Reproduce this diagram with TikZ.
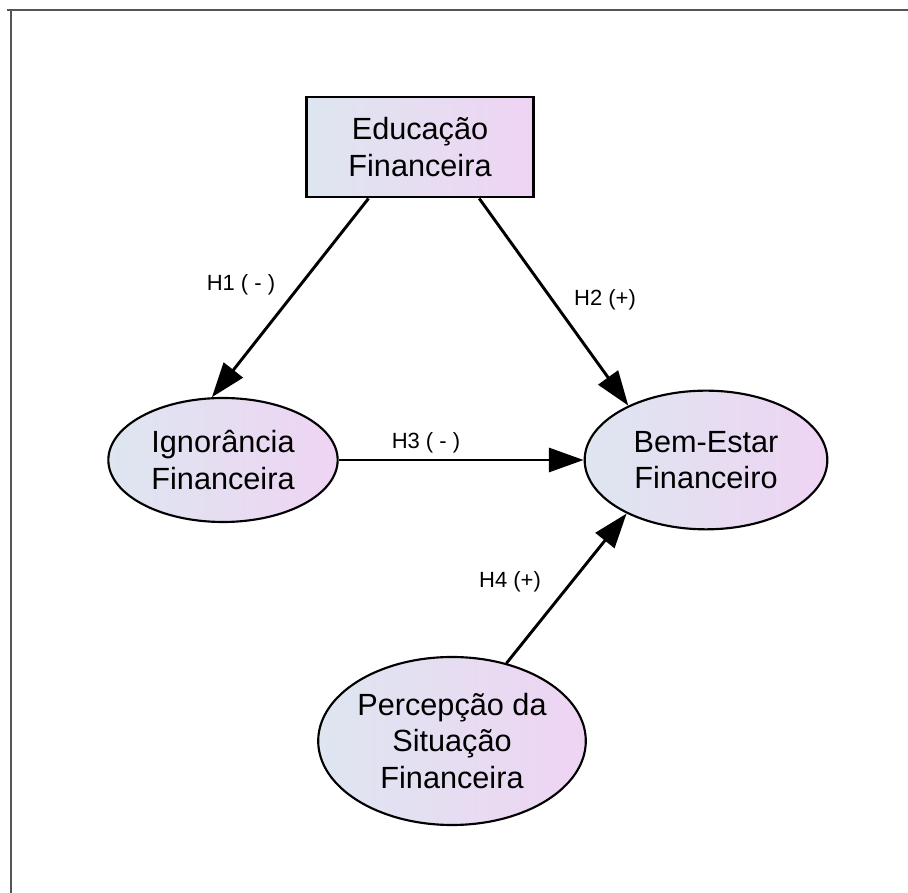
\documentclass[tikz,border=0pt]{standalone}
\usepackage{fontspec}
\setmainfont{Liberation Sans}
\usetikzlibrary{shapes.geometric, arrows.meta, positioning}
\usepackage{xcolor}
\definecolor{bluegray}{RGB}{222,230,240}
\definecolor{lilac}{RGB}{238,212,243}
\definecolor{framegray}{RGB}{85,85,85}

\begin{document}
\begin{tikzpicture}[x=0.75pt, y=0.75pt,
		latent/.style={ellipse, draw, line width=1.6pt, left color=bluegray, right color=lilac,
			align=center, inner sep=0pt, font=\fontsize{23}{27.5}\selectfont},
		observed/.style={rectangle, draw, line width=2.2pt, left color=bluegray, right color=lilac,
			align=center, inner sep=0pt, font=\fontsize{23}{27.5}\selectfont},
		hpath/.style={line width=2.2pt, -{Triangle[length=26pt, width=18pt]}},
		hlabel/.style={font=\fontsize{16.5}{20}\selectfont}]
		\useasboundingbox (0,0) rectangle (908,893);
		% moldura
		\draw[framegray, line width=0.8pt] (7,883) -- (908,883);
		\draw[framegray, line width=1.5pt] (11,883) -- (11,0);
		% construtos
		\node[observed, minimum width=170pt, minimum height=75pt] (edu) at (420,746) {Educação\\Financeira};
		\node[latent, minimum width=172pt, minimum height=93pt] (ign) at (223,433) {Ignorância\\Financeira};
		\node[latent, minimum width=182pt, minimum height=104pt] (bem) at (706,433) {Bem-Estar\\Financeiro};
		\node[latent, minimum width=200pt, minimum height=126pt] (per) at (452,152) {Percepção da\\Situação\\Financeira};
		% hipoteses
		\draw[hpath] (edu.225) -- (ign.100);
		\draw[hpath] (edu.319) -- (bem.145);
		\draw[hpath] (ign) -- (bem);
		\draw[hpath] (per.55) -- (bem.214);
		\node[hlabel] (h1) at (241,608) {H1 ( - )};
		\node[hlabel] (h2) at (605,593) {H2 (+)};
		\node[hlabel] (h3) at (426,450) {H3 ( - )};
		\node[hlabel] (h4) at (510,311) {H4 (+)};
	\end{tikzpicture}
\end{document}
